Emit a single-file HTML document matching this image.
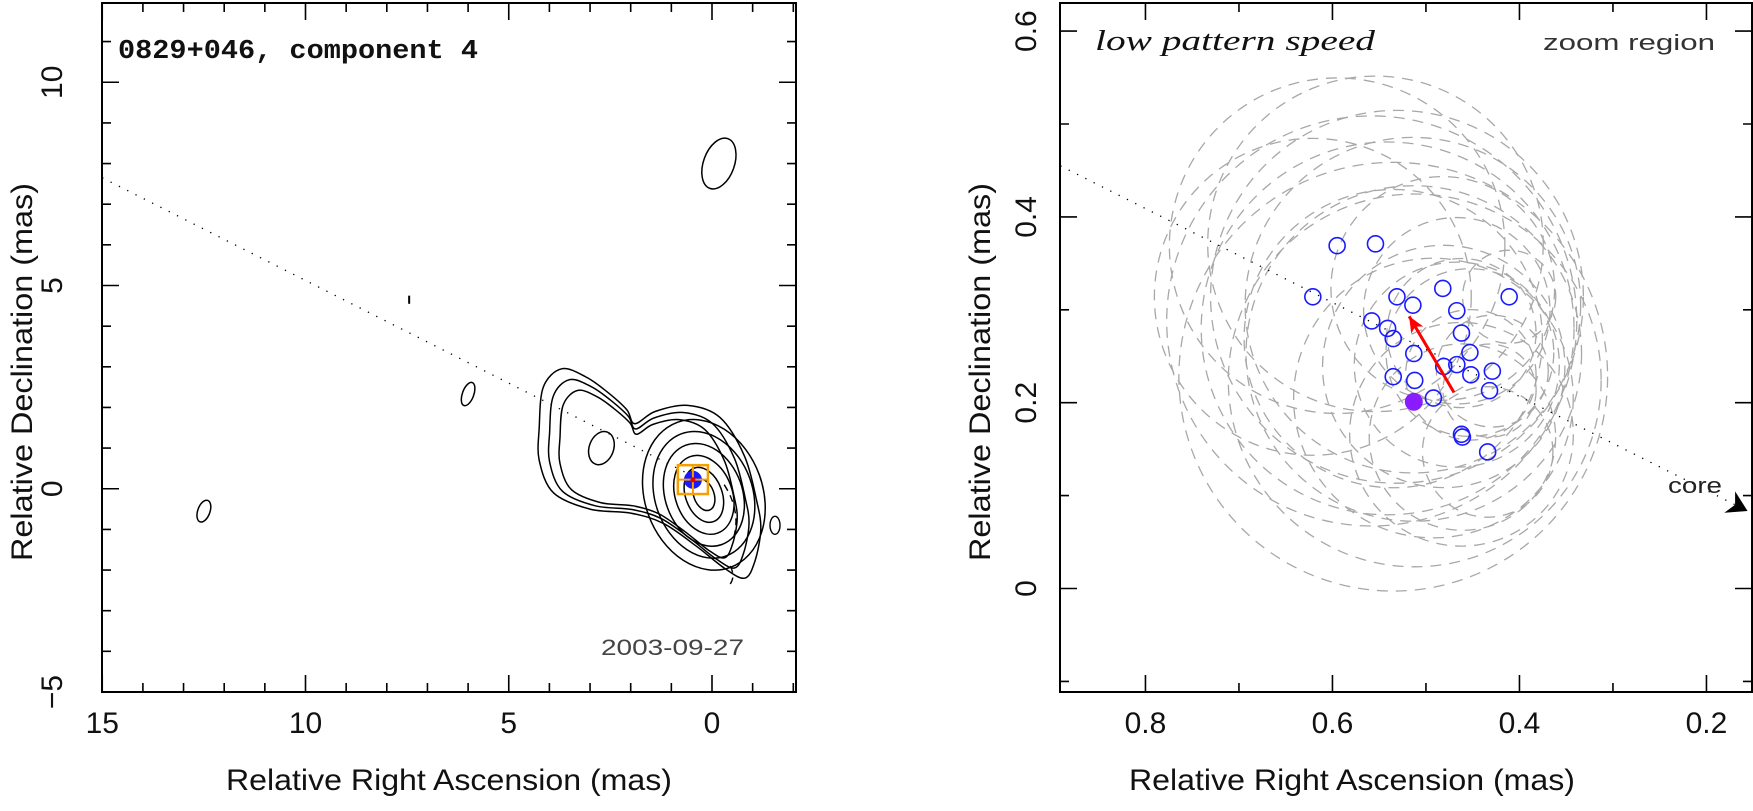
<!DOCTYPE html>
<html><head><meta charset="utf-8"><style>
html,body{margin:0;padding:0;background:#fff;}
svg{display:block;font-family:"Liberation Sans",sans-serif;}
</style></head><body>
<svg id="chart" width="1753" height="811" viewBox="0 0 1753 811">
<g id="left"></g>
<g id="right"></g>
</svg>
<script>
// ---------- data ----------
const leftXTicks=[15,10,5,0];
const leftYTicks=[-5,0,5,10];
const rightXTicks=[0.8,0.6,0.4,0.2];
const rightYTicks=[0,0.2,0.4,0.6];
const rightYTickLabels=["0","0.2","0.4","0.6"];
const outerContour=[[4.25,1.5],[4.15,2.5],[3.7,2.95],[3.1,2.75],[2.6,2.4],[2.1,1.95],[1.9,1.6],[1.4,1.9],[0.6,2.05],[-0.2,1.75],[-0.8,0.8],[-1.1,-0.3],[-1.2,-1.0],[-1.05,-1.8],[-0.8,-2.2],[-0.3,-1.95],[0.4,-1.4],[1.2,-0.85],[2.0,-0.6],[3.0,-0.5],[3.9,-0.1],[4.25,0.7]];
const contourScales=[1,0.9,0.8];
const coreRx=[0.25,0.45,0.7,0.95,1.2,1.45];
const coreRy=[0.4,0.7,1.0,1.3,1.6,1.9];
const smallBlobs=[[-0.17,8.0,0.38,0.65],[6.0,2.33,0.14,0.3],[12.5,-0.55,0.15,0.28],[2.72,1.0,0.3,0.42]];
const rightRA=[0.595,0.554,0.621,0.531,0.482,0.411,0.467,0.514,0.558,0.541,0.535,0.462,0.513,0.453,0.535,0.512,0.481,0.467,0.452,0.429,0.492,0.432,0.462,0.461,0.434];
const rightDec=[0.369,0.371,0.314,0.314,0.323,0.314,0.299,0.305,0.288,0.280,0.269,0.275,0.253,0.254,0.228,0.224,0.239,0.241,0.230,0.234,0.205,0.213,0.166,0.163,0.147];
const errRadius=[0.18,0.18,0.17,0.2,0.12,0.05,0.1,0.18,0.22,0.2,0.16,0.08,0.18,0.09,0.23,0.2,0.13,0.11,0.07,0.06,0.15,0.05,0.12,0.1,0.07];
const meanPos=[0.513,0.201];
const motionArrow=[[0.470,0.211],[0.518,0.293]];
const jetLineL=[[15,7.65],[0.35,0.25]];
const jetLineR=[[0.891,0.455],[0.156,0.0834]];

const NS="http://www.w3.org/2000/svg";
function mk(parent,tag,attrs){const e=document.createElementNS(NS,tag);for(const k in attrs)e.setAttribute(k,attrs[k]);parent.appendChild(e);return e;}
const LX=v=>712-v*40.65, LY=v=>692-(v+5)*40.65;
const RX=v=>1060+(0.8914-v)*935, RY=v=>692-(v+0.1114)*929;
function crPath(pts){let d="";const n=pts.length;for(let i=0;i<n;i++){const p0=pts[(i-1+n)%n],p1=pts[i],p2=pts[(i+1)%n],p3=pts[(i+2)%n];if(i===0)d+=`M${p1[0].toFixed(1)},${p1[1].toFixed(1)}`;const c1=[p1[0]+(p2[0]-p0[0])/6,p1[1]+(p2[1]-p0[1])/6],c2=[p2[0]-(p3[0]-p1[0])/6,p2[1]-(p3[1]-p1[1])/6];d+=`C${c1[0].toFixed(1)},${c1[1].toFixed(1)} ${c2[0].toFixed(1)},${c2[1].toFixed(1)} ${p2[0].toFixed(1)},${p2[1].toFixed(1)}`;}return d+"Z";}

function frame(g,x0,y0,x1,y1){const r=mk(g,'rect',{x:x0,y:y0,width:x1-x0,height:y1-y0,fill:'none',stroke:'#000','stroke-width':2});}
function ticks(g,vals,major,fx,fy,x0,y0,x1,y1){
 vals.forEach(v=>{const isM=major(v);const L=isM?17:9;
  const x=fx(v);
  const t=mk(g,'path',{d:`M${x},${y1}v${-L}M${x},${y0}v${L}`,stroke:'#000','stroke-width':1.6});
  });
}
function yticks(g,vals,major,fy,x0,x1){
 vals.forEach(v=>{const isM=major(v);const L=isM?17:9;const y=fy(v);
  const t=mk(g,'path',{d:`M${x0},${y}h${L}M${x1},${y}h${-L}`,stroke:'#000','stroke-width':1.6});
  });
}
function txt(g,x,y,s,attrs,name){const t=mk(g,'text',Object.assign({x:x,y:y,fill:'#111','font-size':30},attrs));t.textContent=s;return t;}

// ---------- LEFT PANEL ----------
const L=document.getElementById('left');
const lclip=mk(L,'clipPath',{id:'lc'});mk(lclip,'rect',{x:102,y:3,width:694,height:689});
const lc=mk(L,'g',{'clip-path':'url(#lc)'});
{const l=mk(lc,'line',{x1:LX(jetLineL[0][0]),y1:LY(jetLineL[0][1]),x2:LX(jetLineL[1][0]),y2:LY(jetLineL[1][1]),stroke:'#000','stroke-width':1.3,'stroke-dasharray':'1.3 8'});}
contourScales.forEach((s,i)=>{const cx=1.7,cy=0.3;const pts=outerContour.map(p=>[LX(cx+(p[0]-cx)*s),LY(cy+(p[1]-cy)*s)]);
 const c=mk(lc,'path',{d:crPath(pts),fill:'none',stroke:'#000','stroke-width':1.5});});
coreRx.forEach((rx,i)=>{const c=mk(lc,'ellipse',{cx:LX(0.2),cy:LY(-0.15),rx:rx*40.65,ry:coreRy[i]*40.65,transform:`rotate(-20 ${LX(0.2)} ${LY(-0.15)})`,fill:'none',stroke:'#000','stroke-width':1.5});});
smallBlobs.forEach(b=>{const c=mk(lc,'ellipse',{cx:LX(b[0]),cy:LY(b[1]),rx:b[2]*40.65,ry:b[3]*40.65,transform:`rotate(20 ${LX(b[0])} ${LY(b[1])})`,fill:'none',stroke:'#000','stroke-width':1.5});});
{const t=mk(lc,'line',{x1:LX(7.45),y1:LY(4.55),x2:LX(7.45),y2:LY(4.75),stroke:'#000','stroke-width':2});}
{const d=`M${LX(-0.3)},${LY(0.1)} Q${LX(-0.75)},${LY(-0.6)} ${LX(-0.5)},${LY(-1.3)} M${LX(-0.45)},${LY(-1.9)} Q${LX(-0.6)},${LY(-2.2)} ${LX(-0.4)},${LY(-2.4)}`;
 const n=mk(lc,'path',{d:d,fill:'none',stroke:'#000','stroke-width':1.4,'stroke-dasharray':'7 5'});
 const e=mk(lc,'ellipse',{cx:LX(-1.55),cy:LY(-0.9),rx:5,ry:9,fill:'none',stroke:'#000','stroke-width':1.4});}
{const x0=LX(0.84),x1=LX(0.1),y0=LY(0.58),y1=LY(-0.13);
 const b=mk(lc,'circle',{cx:LX(0.47),cy:LY(0.22),r:9,fill:'#1a1aff'});
 const r=mk(lc,'rect',{x:x0,y:y0,width:x1-x0,height:y1-y0,fill:'none',stroke:'#f5a000','stroke-width':2.5});
 const c=mk(lc,'path',{d:`M${(x0+x1)/2},${y0}V${y1}M${x0},${(y0+y1)/2}H${x1}`,stroke:'#f5a000','stroke-width':2});
 const rd=mk(lc,'circle',{cx:LX(0.47),cy:LY(0.22),r:2.5,fill:'#e00'});}
frame(L,102,3,796,692);
const lxs=[];for(let v=-2;v<=15;v++)lxs.push(v);
ticks(L,lxs,v=>v%5===0,LX,null,102,3,796,692);
const lys=[];for(let v=-5;v<=11;v++)lys.push(v);
yticks(L,lys,v=>v%5===0,LY,102,796);
leftXTicks.forEach(v=>txt(L,LX(v),733,String(v),{'text-anchor':'middle'},'x-tick-label'));
leftYTicks.forEach(v=>{txt(L,62,LY(v),v<0?"\u2212"+Math.abs(v):String(v),{'text-anchor':'middle',transform:`rotate(-90 62 ${LY(v)})`},'y-tick-label');});
txt(L,449,790,"Relative Right Ascension (mas)",{'text-anchor':'middle',textLength:446,lengthAdjust:'spacingAndGlyphs'},'x-axis-title');
txt(L,32,372,"Relative Declination (mas)",{'text-anchor':'middle',textLength:378,lengthAdjust:'spacingAndGlyphs',transform:'rotate(-90 32 372)'},'y-axis-title');
txt(L,118,58,"0829+046, component 4",{'font-family':'"Liberation Mono",monospace','font-weight':'bold','font-size':27,textLength:360,lengthAdjust:'spacingAndGlyphs'},'panel-title');
txt(L,601,655,"2003-09-27",{'font-family':'"Liberation Sans",sans-serif','font-size':22,fill:'#444',textLength:143,lengthAdjust:'spacingAndGlyphs'},'epoch-label');

// ---------- RIGHT PANEL ----------
const R=document.getElementById('right');
const rclip=mk(R,'clipPath',{id:'rc'});mk(rclip,'rect',{x:1060,y:3,width:692,height:689});
const rc=mk(R,'g',{'clip-path':'url(#rc)'});
rightRA.forEach((x,i)=>{const c=mk(rc,'circle',{cx:RX(x),cy:RY(rightDec[i]),r:errRadius[i]*932,fill:'none',stroke:'#a8a8a8','stroke-width':1.3,'stroke-dasharray':'11 8'});
 
 });
{const l=mk(rc,'line',{x1:RX(jetLineR[0][0]),y1:RY(jetLineR[0][1]),x2:RX(jetLineR[1][0]),y2:RY(jetLineR[1][1]),stroke:'#000','stroke-width':1.3,'stroke-dasharray':'1.3 8'});
 const ax=RX(jetLineR[1][0]),ay=RY(jetLineR[1][1]);const ang=Math.atan2(ay-RY(jetLineR[0][1]),ax-RX(jetLineR[0][0]))*180/Math.PI;
 const a=mk(rc,'path',{d:`M${ax},${ay} l-20,-12 l6,12 l-6,12 Z`,fill:'#000',transform:`rotate(${ang} ${ax} ${ay})`});}
rightRA.forEach((x,i)=>{const c=mk(rc,'circle',{cx:RX(x),cy:RY(rightDec[i]),r:8,fill:'none',stroke:'#1a1aff','stroke-width':1.6});
 
 });
{const m=mk(rc,'circle',{cx:RX(meanPos[0]),cy:RY(meanPos[1]),r:9,fill:'#8a1aff'});
 const x0=RX(motionArrow[0][0]),y0=RY(motionArrow[0][1]),x1=RX(motionArrow[1][0]),y1=RY(motionArrow[1][1]);
 const ang=Math.atan2(y1-y0,x1-x0)*180/Math.PI;
 const ln=mk(rc,'line',{x1:x0,y1:y0,x2:x1,y2:y1,stroke:'#f00','stroke-width':3});
 const hd=mk(rc,'path',{d:`M${x1},${y1} l-16,-7 l4,7 l-4,7 Z`,fill:'#f00',transform:`rotate(${ang} ${x1} ${y1})`});}
frame(R,1060,3,1752,692);
const rxs=[];for(let k=2;k<=8;k++)rxs.push(k/10);
ticks(R,rxs,v=>Math.round(v*10)%2===0,RX,null,1060,3,1752,692);
const rys=[];for(let k=-1;k<=6;k++)rys.push(k/10);
yticks(R,rys,v=>Math.round(v*10)%2===0&&v>=0,RY,1060,1752);
rightXTicks.forEach(v=>txt(R,RX(v),733,v.toFixed(1),{'text-anchor':'middle'},'x-tick-label'));
rightYTicks.forEach((v,i)=>txt(R,1036,RY(v),rightYTickLabels[i],{'text-anchor':'middle',transform:`rotate(-90 1036 ${RY(v)})`},'y-tick-label'));
txt(R,1352,790,"Relative Right Ascension (mas)",{'text-anchor':'middle',textLength:446,lengthAdjust:'spacingAndGlyphs'},'x-axis-title');
txt(R,990,372,"Relative Declination (mas)",{'text-anchor':'middle',textLength:378,lengthAdjust:'spacingAndGlyphs',transform:'rotate(-90 990 372)'},'y-axis-title');
txt(R,1095,50,"low pattern speed",{'font-family':'"Liberation Serif",serif','font-style':'italic','font-size':28,textLength:280,lengthAdjust:'spacingAndGlyphs'},'scenario-label');
txt(R,1543,50,"zoom region",{'font-size':22,fill:'#333',textLength:172,lengthAdjust:'spacingAndGlyphs'},'zoom-region-label');
txt(R,1668,493,"core",{'font-size':22,fill:'#222',textLength:54,lengthAdjust:'spacingAndGlyphs'},'core-label');
</script>
</body></html>
